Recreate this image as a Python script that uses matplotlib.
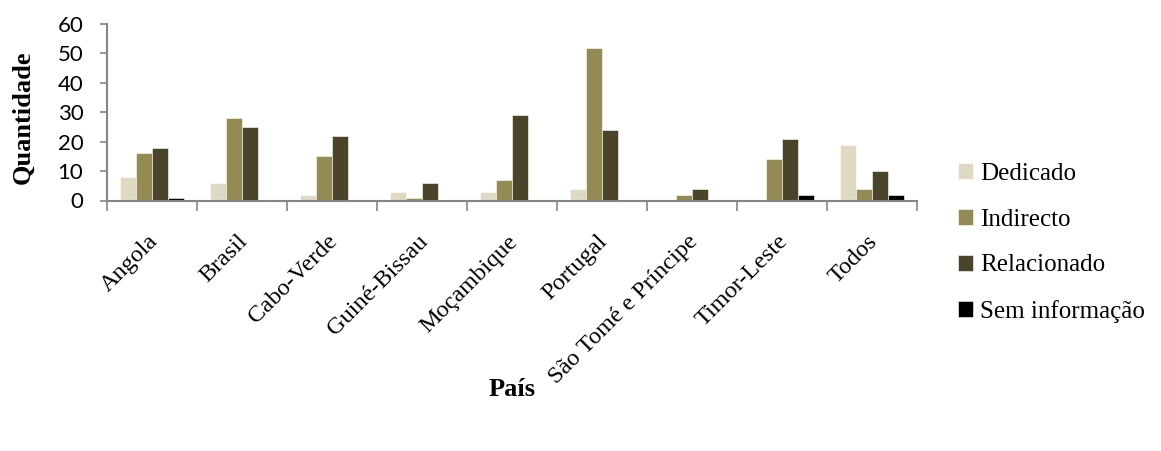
import numpy as np
import matplotlib.pyplot as plt
import matplotlib.transforms as mtransforms

# --- dados ---
paises = ['Angola', 'Brasil', 'Cabo-Verde', 'Guiné-Bissau', 'Moçambique',
          'Portugal', 'São Tomé e Príncipe', 'Timor-Leste', 'Todos']
dedicado = [8, 6, 2, 3, 3, 4, 0, 0, 19]
indirecto = [16, 28, 15, 1, 7, 52, 2, 14, 4]
relacionado = [18, 25, 22, 6, 29, 24, 4, 21, 10]
sem_info = [1, 0, 0, 0, 0, 0, 0, 2, 2]

series = [('Dedicado', dedicado, '#DDD9C3'),
          ('Indirecto', indirecto, '#948A54'),
          ('Relacionado', relacionado, '#4A452A'),
          ('Sem informação', sem_info, '#000000')]

serif = 'Liberation Serif'

fig = plt.figure(figsize=(11.61, 4.51), dpi=100)
ax = fig.add_axes([107 / 1161, 1 - 200.5 / 451, 810 / 1161, 176.5 / 451])

x = np.arange(len(paises))
w = 0.178
for i, (nome, vals, cor) in enumerate(series):
    ax.bar(x + (i - 1.5) * w, vals, w, color=cor, label=nome,
           edgecolor='white', linewidth=0.4)

ax.set_xlim(-0.5, len(paises) - 0.5)
ax.set_ylim(0, 60)
ax.set_yticks(range(0, 61, 10))
ax.tick_params(axis='y', labelsize=16, length=5, color='#868686', width=1.2, pad=12)
for t in ax.get_yticklabels():
    t.set_family('Lato')

# marcas entre categorias no eixo x
ax.set_xticks(np.arange(-0.5, len(paises)), minor=False)
ax.set_xticklabels([])
ax.tick_params(axis='x', length=7, color='#868686', width=1.2)
ax.set_xticks(x, minor=True)
ax.set_xticklabels(paises, minor=True, rotation=45, ha='right',
                   rotation_mode='anchor', family=serif, fontsize=17.5)
ax.tick_params(axis='x', which='minor', length=0, pad=22)

# desloca um pouco os nomes dos países para a esquerda
desloc = mtransforms.ScaledTranslation(-5 / 100, 0, fig.dpi_scale_trans)
for t in ax.get_xticklabels(minor=True):
    t.set_transform(t.get_transform() + desloc)

for s in ['top', 'right']:
    ax.spines[s].set_visible(False)
for s in ['left', 'bottom']:
    ax.spines[s].set_color('#868686')
    ax.spines[s].set_linewidth(1.5)

fig.text(23 / 1161, 1 - 117 / 451, 'Quantidade', family=serif, fontweight='bold',
         fontsize=19, rotation=90, ha='center', va='center')
fig.text(512 / 1161, 1 - 390 / 451, 'País', family=serif,
         fontweight='bold', fontsize=19, ha='center', va='center')

leg = ax.legend(loc='center left', bbox_to_anchor=(958 / 1161, 1 - 243 / 451),
                bbox_transform=fig.transFigure, frameon=False,
                prop={'family': serif, 'size': 18},
                handlelength=0.6, handleheight=0.6, handletextpad=0.3,
                labelspacing=0.95, borderaxespad=0, borderpad=0)

fig.savefig('out.png', dpi=100)
